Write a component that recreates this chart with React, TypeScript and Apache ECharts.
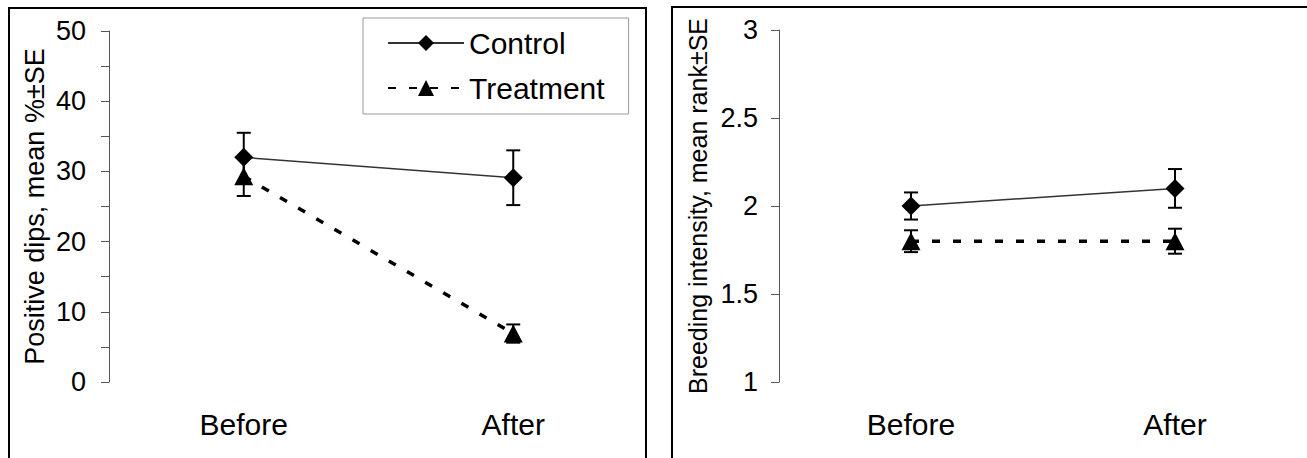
import React, { useEffect, useRef } from "react";
import * as echarts from "echarts";

const categories = ["Before", "After"];
// Left panel: positive dips, mean % ± SE
const dipsControl = [32.0, 29.1];
const dipsControlSE = [3.5, 3.9];
const dipsTreatment = [29.3, 6.9];
const dipsTreatmentSE = [2.8, 1.3];
// Right panel: breeding intensity, mean rank ± SE
const breedControl = [2.0, 2.1];
const breedControlSE = [0.077, 0.11];
const breedTreatment = [1.8, 1.8];
const breedTreatmentSE = [0.062, 0.071];

const FONT = "'Liberation Sans', Arial, sans-serif";

function errData(vals: number[], se: number[]) {
  return vals.map((v, i) => [i, v, se[i]]);
}

const errRender = (params: any, api: any) => {
  const c = api.value(0);
  const v = api.value(1);
  const e = api.value(2);
  const hi = api.coord([c, v + e]);
  const lo = api.coord([c, v - e]);
  const hw = 7;
  const st = { stroke: "#000", lineWidth: 2 };
  return {
    type: "group",
    children: [
      { type: "line", shape: { x1: hi[0], y1: hi[1], x2: lo[0], y2: lo[1] }, style: st },
      { type: "line", shape: { x1: hi[0] - hw, y1: hi[1], x2: hi[0] + hw, y2: hi[1] }, style: st },
      { type: "line", shape: { x1: lo[0] - hw, y1: lo[1], x2: lo[0] + hw, y2: lo[1] }, style: st },
    ],
  };
};

export default function App() {
  const ref = useRef<HTMLDivElement>(null);
  useEffect(() => {
    if (!ref.current) return;
    const chart = echarts.init(ref.current, null, { renderer: "svg" });
    const yAxisCommon = {
      type: "value",
      nameLocation: "middle",
      nameRotate: 90,
      axisLine: { show: true, lineStyle: { color: "#555", width: 1 } },
      axisTick: { show: true, length: 8, lineStyle: { color: "#555", width: 1 } },
      splitLine: { show: false },
    };
    const xAxisCommon = {
      type: "category",
      data: categories,
      axisLine: { show: false },
      axisTick: { show: false },
      axisLabel: { fontSize: 30, color: "#000", fontFamily: FONT, margin: 27 },
    };
    const controlLine = { color: "#333", width: 1.5, type: "solid" };
    const treatLine = { color: "#000", width: 3.5, type: [8, 13], cap: "butt" };
    chart.setOption({
      animation: false,
      backgroundColor: "#fff",
      textStyle: { fontFamily: FONT },
      graphic: [
        { type: "rect", shape: { x: 9, y: 8, width: 637, height: 480 }, style: { fill: "none", stroke: "#000", lineWidth: 2 }, z: 0 },
        { type: "rect", shape: { x: 672, y: 7, width: 660, height: 480 }, style: { fill: "none", stroke: "#000", lineWidth: 2 }, z: 0 },
      ],
      grid: [
        { left: 109, top: 31, width: 539, height: 351 },
        { left: 779, top: 30, width: 532, height: 352 },
      ],
      xAxis: [
        { ...xAxisCommon, gridIndex: 0 },
        { ...xAxisCommon, gridIndex: 1 },
      ],
      yAxis: [
        {
          ...yAxisCommon,
          gridIndex: 0,
          min: 0,
          max: 50,
          interval: 10,
          name: "Positive dips, mean %±SE",
          nameGap: 61,
          nameTextStyle: { fontSize: 27, color: "#000", fontFamily: FONT },
          axisLabel: { fontSize: 27, color: "#000", fontFamily: FONT, margin: 23 },
          minorTick: { show: true, splitNumber: 2, length: 8, lineStyle: { color: "#555", width: 1 } },
        },
        {
          ...yAxisCommon,
          gridIndex: 1,
          min: 1,
          max: 3,
          interval: 0.5,
          name: "Breeding intensity, mean rank±SE",
          nameGap: 69,
          nameTextStyle: { fontSize: 25, color: "#000", fontFamily: FONT },
          axisLabel: { fontSize: 27, color: "#000", fontFamily: FONT, margin: 21 },
        },
      ],
      legend: {
        data: ["Control", "Treatment"],
        orient: "vertical",
        left: 363,
        top: 18,
        backgroundColor: "#fff",
        borderColor: "#999",
        borderWidth: 1,
        padding: [10, 24, 11, 24],
        itemWidth: 76,
        itemHeight: 20,
        itemGap: 15,
        textStyle: { fontSize: 30, color: "#000", fontFamily: FONT },
      },
      series: [
        {
          name: "Control",
          type: "line",
          xAxisIndex: 0,
          yAxisIndex: 0,
          data: dipsControl,
          symbol: "diamond",
          symbolSize: [19, 19],
          lineStyle: controlLine,
          itemStyle: { color: "#000" },
          z: 3,
        },
        {
          name: "Treatment",
          type: "line",
          xAxisIndex: 0,
          yAxisIndex: 0,
          data: dipsTreatment,
          symbol: "triangle",
          symbolSize: [19, 18],
          lineStyle: treatLine,
          itemStyle: { color: "#000" },
          z: 3,
        },
        {
          type: "custom",
          xAxisIndex: 0,
          yAxisIndex: 0,
          data: errData(dipsControl, dipsControlSE),
          encode: { x: 0, y: 1 },
          renderItem: errRender,
          z: 2,
        },
        {
          type: "custom",
          xAxisIndex: 0,
          yAxisIndex: 0,
          data: errData(dipsTreatment, dipsTreatmentSE),
          encode: { x: 0, y: 1 },
          renderItem: errRender,
          z: 2,
        },
        {
          name: "Control",
          type: "line",
          xAxisIndex: 1,
          yAxisIndex: 1,
          data: breedControl,
          symbol: "diamond",
          symbolSize: [19, 19],
          lineStyle: controlLine,
          itemStyle: { color: "#000" },
          z: 3,
        },
        {
          name: "Treatment",
          type: "line",
          xAxisIndex: 1,
          yAxisIndex: 1,
          data: breedTreatment,
          symbol: "triangle",
          symbolSize: [19, 18],
          lineStyle: treatLine,
          itemStyle: { color: "#000" },
          z: 3,
        },
        {
          type: "custom",
          xAxisIndex: 1,
          yAxisIndex: 1,
          data: errData(breedControl, breedControlSE),
          encode: { x: 0, y: 1 },
          renderItem: errRender,
          z: 2,
        },
        {
          type: "custom",
          xAxisIndex: 1,
          yAxisIndex: 1,
          data: errData(breedTreatment, breedTreatmentSE),
          encode: { x: 0, y: 1 },
          renderItem: errRender,
          z: 2,
        },
      ],
    });
    return () => chart.dispose();
  }, []);
  return (
    <div
      ref={ref}
      style={{ position: "absolute", left: 0, top: 0, width: 1307, height: 458, background: "#fff" }}
    />
  );
}
